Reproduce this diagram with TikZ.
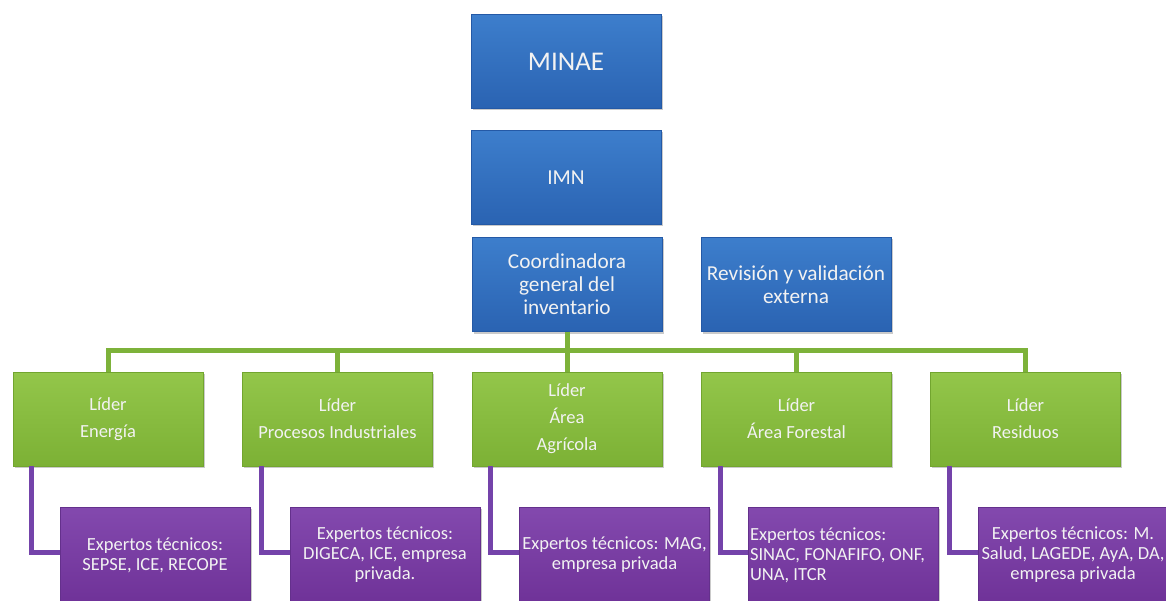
\documentclass[tikz,border=0pt]{standalone}
\usepackage{fontspec}
\setmainfont{Carlito}
\usetikzlibrary{shadows}
\definecolor{blueA}{HTML}{3D7ECC}
\definecolor{blueB}{HTML}{2A63B2}
\definecolor{blueE}{HTML}{2459A6}
\definecolor{greenA}{HTML}{93C64A}
\definecolor{greenB}{HTML}{7CB135}
\definecolor{greenE}{HTML}{72A52F}
\definecolor{purA}{HTML}{8349AE}
\definecolor{purB}{HTML}{6F3298}
\definecolor{purE}{HTML}{64308C}
\definecolor{glinec}{HTML}{7DB23A}
\definecolor{plinec}{HTML}{7443AA}
\definecolor{txt}{HTML}{F2F2F2}
\begin{document}
\begin{tikzpicture}[x=1pt,y=-1pt,
  box/.style={minimum width=190pt, inner sep=2pt, text=txt, align=center,
    line width=0.8pt,
    drop shadow={opacity=0.35, shadow xshift=1.5pt, shadow yshift=-2pt, fill=black!60}},
  bluebox/.style={box, draw=blueE, top color=blueA, bottom color=blueB,
    minimum height=94pt, font=\fontsize{21.3}{23}\selectfont},
  greenbox/.style={box, draw=greenE, top color=greenA, bottom color=greenB,
    minimum height=94pt, font=\fontsize{18.5}{27}\selectfont},
  purbox/.style={box, draw=purE, top color=purA, bottom color=purB,
    minimum height=96pt, font=\fontsize{18.5}{20}\selectfont},
  gconn/.style={draw=glinec, line width=5pt},
  pconn/.style={draw=plinec, line width=5pt}]
\useasboundingbox (0,0) rectangle (1166,601);

% blue
\node[bluebox, font=\fontsize{27}{30}\selectfont] (minae) at (566,61.5) {MINAE};
\node[bluebox] (imn) at (566,177.5) {IMN};
\node[bluebox] (coord) at (567,284.5) {Coordinadora\\general del\\inventario};
\node[bluebox] (rev) at (796,284.5) {Revisión y validación\\externa};

% green
\node[greenbox] (e1) at (108,419) {Líder\\Energía};
\node[greenbox] (e2) at (337.5,419) {Líder\\Procesos Industriales};
\node[greenbox] (e3) at (567,419) {Líder\\Área\\Agrícola};
\node[greenbox] (e4) at (796.5,419) {Líder\\Área Forestal};
\node[greenbox] (e5) at (1025.5,419) {Líder\\Residuos};

% purple
\node[purbox] (x1) at (155,555) {Expertos técnicos:\\SEPSE, ICE, RECOPE};
\node[purbox] (x2) at (385,555) {Expertos técnicos:\\DIGECA, ICE, empresa\\privada.};
\node[purbox] (x3) at (614.5,555) {Expertos técnicos: MAG,\\empresa privada};
\node[purbox, align=flush left, text width=186pt] (x4) at (843,555) {Expertos técnicos:\\SINAC, FONAFIFO, ONF,\\UNA, ITCR};
\node[purbox] (x5) at (1073,555) {Expertos técnicos: M.\\Salud, LAGEDE, AyA, DA,\\empresa privada};

% green tree
\coordinate (bus) at (567,350);
\foreach \g in {e1,e2,e3,e4,e5}
  \draw[gconn] (coord.south) -- (coord.south |- bus) -| (\g.north);

% purple links
\foreach \g/\x in {e1/x1,e2/x2,e3/x3,e4/x4,e5/x5}
  \draw[pconn] ([xshift=19pt]\g.south west) |- ([yshift=3pt]\x.west);
\end{tikzpicture}
\end{document}
